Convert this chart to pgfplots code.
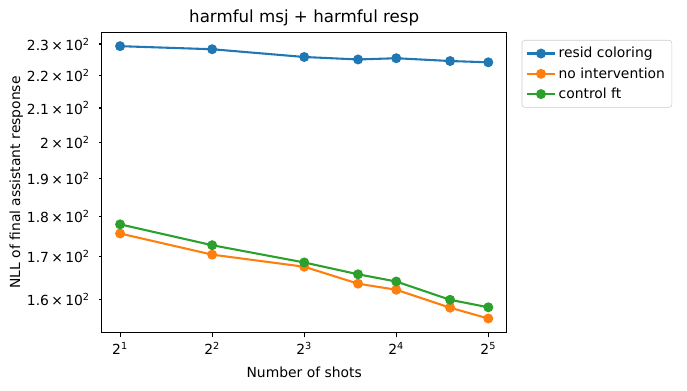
\documentclass[border=0pt]{standalone}
\usepackage{pgfplots}
\pgfplotsset{compat=1.18}
\usepackage{fontspec}
\setmainfont{DejaVu Sans}
\definecolor{tabblue}{HTML}{1F77B4}
\definecolor{taborange}{HTML}{FF7F0E}
\definecolor{tabgreen}{HTML}{2CA02C}
\begin{document}
\begin{tikzpicture}
\useasboundingbox (-73.2pt,-41.3pt) rectangle (421.4pt,239.5pt);
\begin{axis}[
  at={(0,0)}, anchor=south west,
  width=291.6pt, height=216.3pt, scale only axis,
  xmode=log, log basis x=2, ymode=log,
  xmin=1.741, xmax=36.76, ymin=152.6, ymax=233.9,
  xtick={2,4,8,16,32},
  xticklabels={2\textsuperscript{1},2\textsuperscript{2},2\textsuperscript{3},2\textsuperscript{4},2\textsuperscript{5}},
  ytick={160,170,180,190,200,210,220,230},
  yticklabels={1.6\,×\,10\textsuperscript{2},1.7\,×\,10\textsuperscript{2},1.8\,×\,10\textsuperscript{2},1.9\,×\,10\textsuperscript{2},2\,×\,10\textsuperscript{2},2.1\,×\,10\textsuperscript{2},2.2\,×\,10\textsuperscript{2},2.3\,×\,10\textsuperscript{2}},
  minor ytick={160,170,180,190,200,210,220,230},
  xminorticks=false,
  tick align=outside, xtick pos=bottom, ytick pos=left,
  major tick length=3.5pt, minor tick length=2pt,
  tick style={line width=0.8pt, black},
  y tick style={draw=none},
  minor y tick style={draw=black, line width=0.8pt},
  axis line style={line width=0.8pt},
  tick label style={font=\fontsize{10}{12}\selectfont},
  yticklabel style={xshift=-1.5pt},
  /pgf/number format/assume math mode=true,
  xlabel={Number of shots},
  ylabel={NLL of final assistant response},
  label style={font=\fontsize{10}{12}\selectfont},
  xlabel style={yshift=-2pt},
  ylabel style={yshift=-4pt},
  title={harmful msj + harmful resp},
  title style={font=\fontsize{12}{14}\selectfont, yshift=-5pt},
  legend style={at={(1.037,0.974)}, anchor=north west, draw=black!20, rounded corners=2pt, font=\fontsize{10}{12}\selectfont, inner sep=3pt, row sep=1.5pt},
  legend cell align=left,
  legend image code/.code={\draw[mark repeat=2,mark phase=2] plot coordinates {(0cm,0cm)(0.35cm,0cm)(0.7cm,0cm)};},
  every axis plot/.append style={line width=1.5pt, mark=*, mark size=2.8pt},
]
\addplot[color=tabblue, mark options={fill=tabblue, draw=tabblue}] coordinates {(2,229.3)(4,228.3)(8,225.8)(12,225.0)(16,225.4)(24,224.5)(32,224.1)};
\addlegendentry{resid coloring}
\addplot[color=taborange, mark options={fill=taborange, draw=taborange}] coordinates {(2,175.7)(4,170.5)(8,167.6)(12,163.6)(16,162.2)(24,158.1)(32,155.7)};
\addlegendentry{no intervention}
\addplot[color=tabgreen, mark options={fill=tabgreen, draw=tabgreen}] coordinates {(2,178.0)(4,172.8)(8,168.6)(12,165.8)(16,164.1)(24,159.9)(32,158.2)};
\addlegendentry{control ft}
\end{axis}
\end{tikzpicture}
\end{document}
